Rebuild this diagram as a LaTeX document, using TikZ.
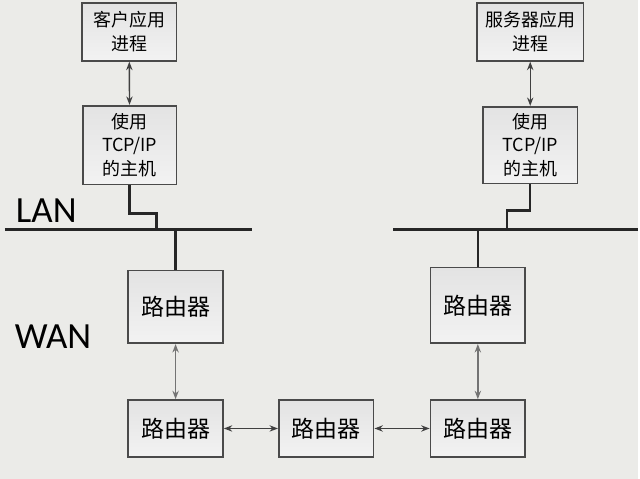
\documentclass[tikz,border=0pt]{standalone}
\usepackage{fontspec}
\setmainfont{Carlito}
\newfontfamily\cjk{Noto Sans CJK SC}
\usetikzlibrary{arrows.meta,positioning,calc}
\definecolor{bgcol}{HTML}{EBEBE8}
\definecolor{boxline}{HTML}{4A4A4A}

\begin{document}
\begin{tikzpicture}[
  x=0.025cm, y=-0.025cm,
  >={Stealth[length=6pt,width=4.5pt]},
  every node/.style={font=\cjk\fontsize{12.8}{17}\selectfont},
  proc/.style={draw=boxline, line width=1.2pt, align=center, inner sep=0pt,
               top color=black!11, bottom color=black!5},
  router/.style={proc, minimum width=2.375cm, font=\cjk\fontsize{16.4}{20}\selectfont},
  bus/.style={line width=2.2pt, black!85},
  tap/.style={line width=1.8pt, black!85},
  link/.style={<->, line width=1pt, black!75},
  netname/.style={font=\fontsize{26.3}{30}\selectfont, anchor=base west},
]
\fill[bgcol] (0,0) rectangle (640,480);

% hosts and processes
\node[proc, minimum width=2.375cm, minimum height=1.45cm]  (client) at (129.5, 32)  {客户应用\\进程};
\node[proc, minimum width=2.35cm,  minimum height=1.975cm] (hostL)  at (130, 145.5) {使用\\TCP/IP\\的主机};
\node[proc, minimum width=2.675cm, minimum height=1.45cm]  (server) at (531.5, 32)  {服务器应用\\进程};
\node[proc, minimum width=2.375cm, minimum height=1.925cm] (hostR)  at (531.5, 145.5) {使用\\TCP/IP\\的主机};

% routers
\node[router, minimum height=1.825cm] (rTL) at (176, 307.5) {路由器};
\node[router, minimum height=1.9cm]   (rTR) at (479, 306)   {路由器};
\node[router, minimum height=1.425cm] (rBL) at (176, 429.5) {路由器};
\node[router, minimum height=1.425cm] (rBM) at (327, 429.5) {路由器};
\node[router, minimum height=1.425cm] (rBR) at (479, 429.5) {路由器};

% LAN buses
\coordinate (lanL1) at (5, 230);
\coordinate (lanL2) at (253, 230);
\coordinate (lanR1) at (394, 230);
\coordinate (lanR2) at (640, 230);
\draw[bus] (lanL1) -- (lanL2);
\draw[bus] (lanR1) -- (lanR2);

% hosts onto the bus
\draw[tap] (hostL.south) -- ++(0, 28) -| (157, 230);
\draw[tap] (hostR.south) -- ++(0, 26) -| (508, 230);
\draw[tap] (rTL.north |- lanL1) -- (rTL.north);
\draw[tap] (rTR.north |- lanR1) -- (rTR.north);

% process links
\draw[link] (client) -- (hostL);
\draw[link] (server) -- (hostR);

% router links
\draw[link, black!55] (rTL) -- (rBL);
\draw[link, black!55] (rTR) -- (rBR);
\draw[link] (rBL) -- (rBM);
\draw[link] (rBM) -- (rBR);

% network labels
\node[netname] (lan) at (11, 223) {LAN};
\node[netname] (wan) at (10, 349) {WAN};
\end{tikzpicture}
\end{document}
